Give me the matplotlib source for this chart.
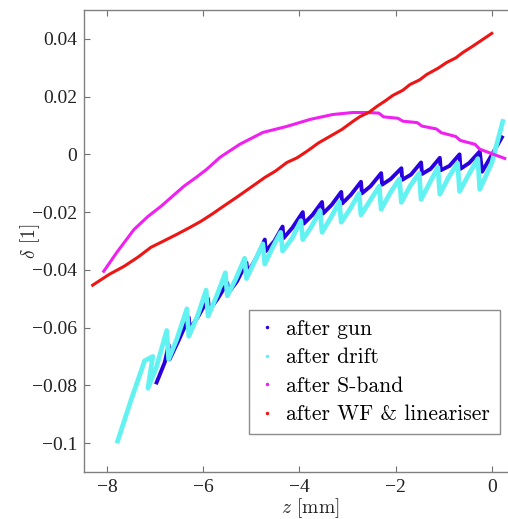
import matplotlib
matplotlib.use('Agg')
import matplotlib.pyplot as plt
from matplotlib.lines import Line2D

plt.rcParams['font.family'] = ['Liberation Serif', 'DejaVu Serif']
plt.rcParams['mathtext.fontset'] = 'cm'
cm_font = ['cmr10', 'DejaVu Serif']

# after gun: z [mm], delta
gun_z = [-6.97, -6.80, -6.72, -6.70, -6.50, -6.30, -6.28, -6.10, -5.90, -5.88,
         -5.70, -5.50, -5.48, -5.30, -5.10, -5.08, -4.90, -4.72, -4.70, -4.52,
         -4.35, -4.33, -4.15, -3.93, -3.91, -3.73, -3.53, -3.51, -3.33, -3.13,
         -3.11, -2.93, -2.72, -2.70, -2.52, -2.30, -2.28, -2.10, -1.88, -1.86,
         -1.68, -1.47, -1.45, -1.27, -1.08, -1.06, -0.88, -0.67, -0.65, -0.47,
         -0.25, -0.20, 0.21]
gun_d = [-0.0790, -0.0720, -0.0660, -0.0710, -0.0640, -0.0565, -0.0605, -0.0560, -0.0500, -0.0540,
         -0.0500, -0.0445, -0.0480, -0.0440, -0.0375, -0.0410, -0.0360, -0.0295, -0.0335, -0.0300,
         -0.0250, -0.0290, -0.0255, -0.0200, -0.0240, -0.0210, -0.0165, -0.0205, -0.0175, -0.0130,
         -0.0170, -0.0140, -0.0095, -0.0135, -0.0110, -0.0065, -0.0105, -0.0085, -0.0048, -0.0088,
         -0.0070, -0.0028, -0.0068, -0.0050, -0.0012, -0.0055, -0.0040, 0.0000, -0.0050, -0.0030,
         0.0010, -0.0060, 0.0059]

# after drift
drift_z = [-7.78, -7.50, -7.22, -7.05, -7.15, -6.98, -6.76, -6.72, -6.55, -6.34,
           -6.30, -6.12, -5.94, -5.90, -5.72, -5.54, -5.50, -5.32, -5.14, -5.10,
           -4.93, -4.76, -4.72, -4.55, -4.39, -4.35, -4.15, -3.97, -3.93, -3.75,
           -3.57, -3.53, -3.35, -3.17, -3.13, -2.95, -2.76, -2.72, -2.53, -2.34,
           -2.30, -2.10, -1.92, -1.88, -1.70, -1.51, -1.47, -1.28, -1.12, -1.08,
           -0.90, -0.71, -0.67, -0.48, -0.29, -0.25, 0.00, 0.23]
drift_d = [-0.0993, -0.0850, -0.0715, -0.0700, -0.0810, -0.0740, -0.0610, -0.0710, -0.0640, -0.0535,
           -0.0630, -0.0560, -0.0470, -0.0560, -0.0490, -0.0410, -0.0490, -0.0430, -0.0360, -0.0430,
           -0.0370, -0.0310, -0.0380, -0.0320, -0.0270, -0.0335, -0.0290, -0.0230, -0.0295, -0.0250,
           -0.0195, -0.0270, -0.0220, -0.0165, -0.0235, -0.0190, -0.0135, -0.0210, -0.0160, -0.0110,
           -0.0190, -0.0130, -0.0085, -0.0166, -0.0110, -0.0065, -0.0156, -0.0095, -0.0045, -0.0138,
           -0.0080, -0.0030, -0.0128, -0.0070, -0.0015, -0.0121, -0.0030, 0.0114]

# after S-band
sband_z = [-8.07, -7.80, -7.44, -7.15, -6.88, -6.64, -6.40, -6.15, -5.93, -5.65,
           -5.24, -4.76, -4.26, -3.78, -3.31, -2.89, -2.60, -2.35, -2.25, -1.95,
           -1.85, -1.55, -1.45, -1.15, -1.05, -0.75, -0.65, -0.35, -0.25, 0.27]
sband_d = [-0.0405, -0.0340, -0.0260, -0.0215, -0.0180, -0.0145, -0.0110, -0.0080, -0.0052, -0.0010,
           0.0035, 0.0076, 0.0097, 0.0121, 0.0138, 0.0145, 0.0145, 0.0143, 0.0130, 0.0125,
           0.0115, 0.0110, 0.0098, 0.0088, 0.0075, 0.0062, 0.0048, 0.0035, 0.0018, -0.0014]

# after WF & lineariser
wf_z = [-8.30, -7.95, -7.65, -7.35, -7.09, -6.80, -6.55, -6.30, -6.05, -5.80,
        -5.61, -5.30, -5.00, -4.72, -4.50, -4.26, -4.05, -3.85, -3.60, -3.37,
        -3.12, -2.89, -2.74, -2.55, -2.39, -2.20, -2.06, -1.85, -1.70, -1.50,
        -1.35, -1.12, -0.94, -0.75, -0.60, -0.42, -0.25, 0.00]
wf_d = [-0.0453, -0.0415, -0.0388, -0.0355, -0.0322, -0.0298, -0.0277, -0.0255, -0.0232, -0.0205,
        -0.0183, -0.0148, -0.0113, -0.0080, -0.0058, -0.0028, -0.0012, 0.0010, 0.0040, 0.0062,
        0.0086, 0.0114, 0.0131, 0.0146, 0.0166, 0.0187, 0.0204, 0.0222, 0.0242, 0.0258,
        0.0277, 0.0298, 0.0318, 0.0334, 0.0353, 0.0372, 0.0391, 0.0419]

labels = ['after gun', 'after drift', 'after S-band', 'after WF & lineariser']
colors = ['#2a00e0', '#62f2f2', '#f020f0', '#ee1515']

fig = plt.figure(figsize=(5.08, 5.19), dpi=100)
# the plot box runs past the right edge of the picture (right spine cut off)
ax = fig.add_axes([84/508, 47/519, 452/508, 462/519])

ax.plot(gun_z, gun_d, color=colors[0], lw=2.8, solid_joinstyle='round')
ax.plot(drift_z, drift_d, color=colors[1], lw=3.4, solid_joinstyle='round')
ax.plot(sband_z, sband_d, color=colors[2], lw=2.2, solid_joinstyle='round')
ax.plot(wf_z, wf_d, color=colors[3], lw=2.2, solid_joinstyle='round')

ax.set_xlim(-8.48, 0.92)
ax.set_ylim(-0.11, 0.05)
ax.set_xticks([-8, -6, -4, -2, 0])
ax.set_xticklabels(['\u22128', '\u22126', '\u22124', '\u22122', '0'])
yt = [-0.1, -0.08, -0.06, -0.04, -0.02, 0, 0.02, 0.04]
ax.set_yticks(yt)
ax.set_yticklabels(['\u22120.1', '\u22120.08', '\u22120.06', '\u22120.04', '\u22120.02', '0', '0.02', '0.04'])
ax.tick_params(direction='in', top=True, right=True, length=4, width=0.8,
               color='#707070', labelsize=14, labelcolor='#222222', pad=5)
for s in ax.spines.values():
    s.set_color('#808080')
    s.set_linewidth(1.0)

ax.set_xlabel(r'$z$ [mm]', fontsize=14, labelpad=0, color='#222222', family=cm_font)
ax.set_ylabel(r'$\delta$ [1]', fontsize=14, labelpad=-7, color='#222222', family=cm_font)

handles = [Line2D([], [], ls='none', marker='.', ms=3, color=c) for c in colors]
leg = ax.legend(handles, labels, loc='lower right', bbox_to_anchor=(0.920, 0.082),
                borderaxespad=0, prop={'family': cm_font, 'size': 15.5},
                frameon=True, fancybox=False, handlelength=0.8,
                handletextpad=0.5, labelspacing=0.42, borderpad=0.45)
leg.get_frame().set_edgecolor('#707070')
leg.get_frame().set_linewidth(1.0)

fig.savefig('out.png', dpi=100)
